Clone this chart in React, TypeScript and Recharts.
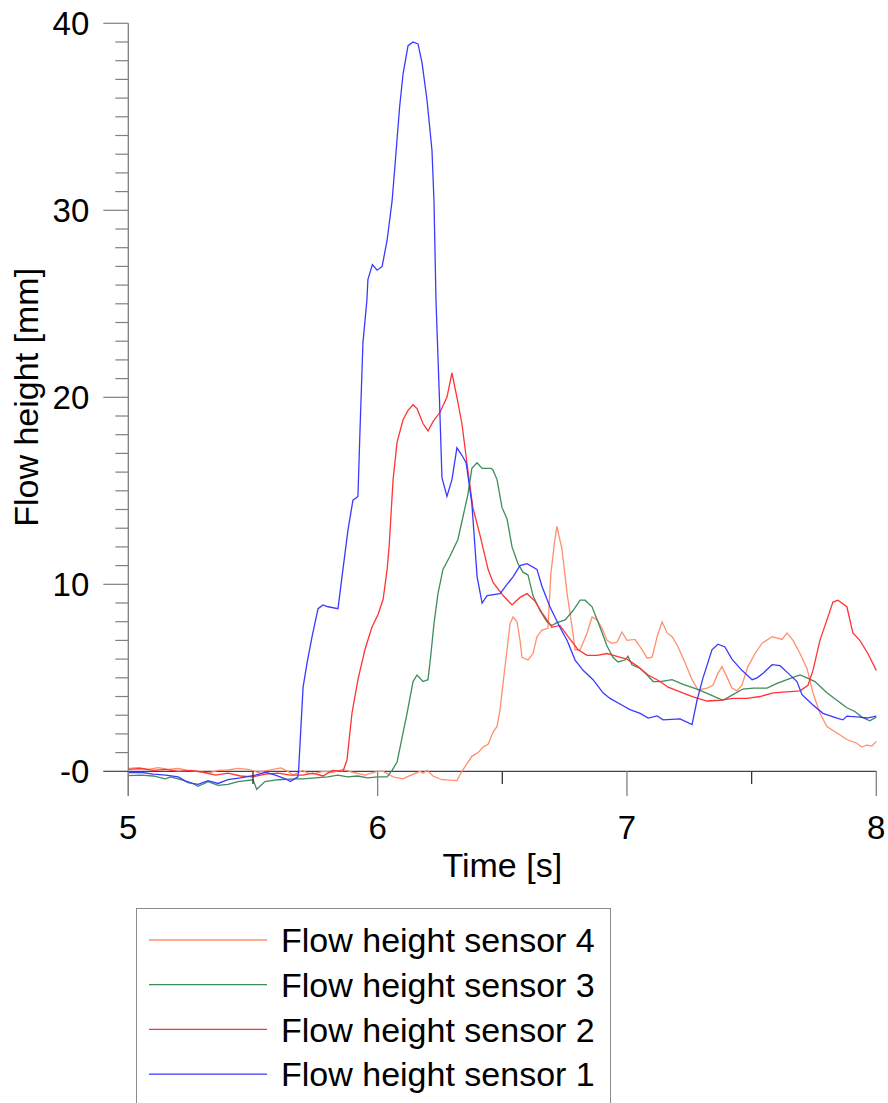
import { LineChart, Line, XAxis, YAxis, ReferenceLine } from 'recharts';

// time [s] and flow height [mm], one pair of arrays per sensor
const sensor1Time = [
  5.0, 5.05, 5.1, 5.15, 5.2, 5.24, 5.28, 5.32, 5.36, 5.4, 5.45, 5.51, 5.55, 5.59, 5.63, 5.65, 5.68,
  5.683, 5.701, 5.717, 5.737, 5.761, 5.781, 5.801, 5.841, 5.857, 5.881, 5.901, 5.921, 5.929, 5.941,
  5.957, 5.961, 5.979, 5.998, 6.018, 6.038, 6.058, 6.072, 6.088, 6.102, 6.122, 6.142, 6.162, 6.178,
  6.198, 6.218, 6.226, 6.234, 6.248, 6.258, 6.278, 6.298, 6.318, 6.338, 6.355, 6.378, 6.399, 6.419,
  6.439, 6.491, 6.519, 6.543, 6.571, 6.599, 6.639, 6.659, 6.691, 6.731, 6.76, 6.792, 6.824, 6.864,
  6.904, 6.932, 6.972, 7.012, 7.053, 7.085, 7.121, 7.145, 7.213, 7.261, 7.281, 7.305, 7.341, 7.365,
  7.393, 7.421, 7.461, 7.502, 7.522, 7.546, 7.582, 7.614, 7.646, 7.682, 7.702, 7.746, 7.786, 7.842,
  7.866, 7.882, 7.934, 7.962, 8.0,
];
const sensor1Height = [
  -0.07, -0.05, -0.15, -0.2, -0.3, -0.6, -0.7, -0.5, -0.65, -0.45, -0.35, -0.2, -0.05, -0.2, -0.4, -0.55, -0.3,
  0.05, 4.5, 5.8, 7.2, 8.7, 8.9, 8.8, 8.7, 10.4, 12.9, 14.5, 14.7, 18.1, 22.9,
  25.2, 26.3, 27.1, 26.8, 27.0, 28.4, 30.5, 32.8, 35.5, 37.3, 38.8, 39.0, 38.9, 37.9,
  35.9, 33.2, 30.5, 25.2, 19.9, 15.7, 14.7, 15.6, 17.3, 16.9, 16.5, 14.3, 10.4, 9.0,
  9.4, 9.5, 10.0, 10.4, 11.0, 11.1, 10.8, 9.9, 8.8, 7.7, 7.0, 5.95, 5.4, 4.9,
  4.2, 3.9, 3.6, 3.3, 3.1, 2.85, 2.96, 2.75, 2.8, 2.5, 3.8, 5.0, 6.5, 6.8,
  6.65, 6.0, 5.4, 4.9, 5.0, 5.25, 5.7, 5.65, 5.25, 4.8, 4.1, 3.55, 3.1, 2.85,
  2.75, 2.95, 2.9, 2.85, 2.95,
];

const sensor2Time = [
  5.0, 5.05, 5.1, 5.15, 5.2, 5.25, 5.3, 5.35, 5.4, 5.45, 5.5, 5.55, 5.6, 5.65, 5.7, 5.74, 5.78, 5.82,
  5.861, 5.877, 5.897, 5.921, 5.949, 5.977, 6.002, 6.022, 6.038, 6.046, 6.062, 6.078, 6.102, 6.122,
  6.142, 6.158, 6.182, 6.202, 6.222, 6.25, 6.278, 6.298, 6.318, 6.338, 6.358, 6.382, 6.411, 6.443,
  6.463, 6.503, 6.539, 6.571, 6.599, 6.631, 6.663, 6.699, 6.731, 6.764, 6.804, 6.84, 6.88, 6.92,
  6.96, 7.0, 7.044, 7.085, 7.133, 7.165, 7.213, 7.265, 7.321, 7.373, 7.425, 7.481, 7.534, 7.586,
  7.642, 7.694, 7.726, 7.746, 7.774, 7.802, 7.826, 7.846, 7.882, 7.906, 7.934, 7.966, 8.0,
];
const sensor2Height = [
  0.1, 0.15, 0.05, 0.1, 0.0, 0.05, -0.05, -0.2, -0.1, -0.25, -0.3, -0.15, -0.1, -0.2, -0.2, -0.1, -0.25, 0.05,
  0.0, 0.6, 3.1, 4.9, 6.5, 7.7, 8.4, 9.2, 10.8, 12.0, 15.6, 17.6, 18.8, 19.3,
  19.6, 19.4, 18.6, 18.2, 18.7, 19.2, 20.0, 21.3, 20.0, 18.6, 16.5, 14.1, 12.6, 10.8,
  10.1, 9.4, 8.9, 9.3, 9.5, 9.1, 8.4, 7.7, 7.8, 7.2, 6.5, 6.2, 6.2, 6.3,
  6.15, 6.0, 5.6, 5.15, 4.8, 4.5, 4.25, 3.98, 3.76, 3.8, 3.9, 3.9, 4.0, 4.2,
  4.25, 4.3, 4.6, 5.4, 7.0, 8.1, 9.05, 9.15, 8.8, 7.4, 7.0, 6.3, 5.4,
];

const sensor3Time = [
  5.0, 5.05, 5.1, 5.148, 5.17, 5.211, 5.25, 5.28, 5.32, 5.36, 5.4, 5.44, 5.5, 5.515, 5.548, 5.6,
  5.668, 5.7, 5.75, 5.8, 5.84, 5.88, 5.92, 5.96, 6.0, 6.038, 6.058, 6.078, 6.098, 6.118, 6.142,
  6.158, 6.182, 6.202, 6.214, 6.226, 6.242, 6.262, 6.29, 6.322, 6.342, 6.362, 6.378, 6.399, 6.419,
  6.455, 6.463, 6.479, 6.499, 6.519, 6.539, 6.563, 6.583, 6.603, 6.623, 6.651, 6.679, 6.699, 6.719,
  6.752, 6.784, 6.812, 6.832, 6.86, 6.892, 6.92, 6.944, 6.964, 6.992, 7.004, 7.02, 7.053, 7.081,
  7.105, 7.133, 7.181, 7.225, 7.281, 7.333, 7.385, 7.425, 7.465, 7.506, 7.562, 7.602, 7.642, 7.694,
  7.722, 7.754, 7.802, 7.842, 7.882, 7.914, 7.942, 7.974, 8.0,
];
const sensor3Height = [
  -0.23, -0.2, -0.25, -0.4, -0.3, -0.45, -0.6, -0.8, -0.55, -0.75, -0.7, -0.55, -0.45, -0.96, -0.55, -0.45,
  -0.4, -0.4, -0.35, -0.3, -0.2, -0.3, -0.25, -0.35, -0.3, -0.3, 0.05, 0.5, 1.8, 3.1, 4.8,
  5.15, 4.8, 4.9, 6.3, 7.9, 9.5, 10.8, 11.5, 12.4, 13.6, 14.8, 16.2, 16.5, 16.2,
  16.2, 16.1, 15.6, 14.1, 13.5, 12.0, 11.1, 10.65, 10.5, 9.4, 8.6, 8.0, 7.8, 7.95,
  8.1, 8.6, 9.15, 9.15, 8.8, 7.7, 6.7, 6.1, 5.85, 5.95, 6.15, 5.7, 5.5, 5.15,
  4.8, 4.8, 4.9, 4.65, 4.4, 4.1, 3.8, 4.1, 4.4, 4.45, 4.45, 4.7, 4.9, 5.15,
  5.0, 4.8, 4.2, 3.8, 3.4, 3.2, 2.9, 2.7, 2.9,
];

const sensor4Time = [
  5.0, 5.04, 5.08, 5.12, 5.16, 5.2, 5.24, 5.28, 5.32, 5.36, 5.4, 5.44, 5.48, 5.52, 5.56, 5.612, 5.64,
  5.66, 5.7, 5.72, 5.741, 5.78, 5.82, 5.861, 5.9, 5.949, 5.998, 6.022, 6.062, 6.102, 6.118, 6.17,
  6.182, 6.198, 6.222, 6.258, 6.318, 6.338, 6.378, 6.403, 6.423, 6.443, 6.463, 6.479, 6.491, 6.503,
  6.519, 6.531, 6.543, 6.559, 6.571, 6.579, 6.603, 6.623, 6.639, 6.659, 6.683, 6.695, 6.711, 6.719,
  6.739, 6.76, 6.78, 6.792, 6.812, 6.84, 6.86, 6.88, 6.9, 6.92, 6.94, 6.96, 6.98, 7.0,
  7.032, 7.061, 7.081, 7.101, 7.121, 7.141, 7.161, 7.181, 7.205, 7.233, 7.261, 7.285, 7.321, 7.345,
  7.365, 7.381, 7.401, 7.421, 7.441, 7.461, 7.485, 7.514, 7.542, 7.582, 7.622, 7.642, 7.666, 7.694,
  7.722, 7.746, 7.774, 7.802, 7.842, 7.882, 7.922, 7.942, 7.962, 7.982, 8.0,
];
const sensor4Height = [
  0.16, 0.2, 0.1, 0.2, 0.1, 0.15, 0.05, 0.0, -0.1, 0.05, 0.07, 0.16, 0.1, -0.05, 0.05, 0.18, 0.0,
  -0.2, 0.05, -0.1, -0.15, 0.0, -0.05, 0.1, -0.05, -0.2, 0.0, 0.0, -0.3, -0.4, -0.3, 0.0,
  -0.1, 0.05, -0.25, -0.45, -0.5, 0.0, 0.8, 1.0, 1.3, 1.45, 2.1, 2.4, 3.3, 4.7,
  6.5, 7.9, 8.25, 8.0, 7.0, 6.1, 5.95, 6.3, 7.2, 7.55, 7.65, 10.6, 12.4, 13.1,
  11.9, 9.5, 7.7, 6.5, 6.5, 7.4, 8.25, 8.1, 7.65, 7.0, 6.85, 6.9, 7.45, 7.0,
  7.05, 6.5, 6.05, 6.1, 7.2, 8.0, 7.4, 7.2, 6.65, 5.8, 4.9, 4.35, 4.45, 4.6,
  5.25, 5.6, 5.05, 4.45, 4.3, 4.6, 5.6, 6.3, 6.85, 7.2, 7.05, 7.4, 7.0, 6.3,
  5.5, 4.2, 3.1, 2.4, 2.05, 1.7, 1.5, 1.3, 1.4, 1.35, 1.6,
];

const xTicks = [5, 5.5, 6, 6.5, 7, 7.5, 8];
const yTicks = Array.from({ length: 41 }, (_, i) => i);

const legendItems = [
  { name: 'Flow height sensor 4', color: '#ff8f6e' },
  { name: 'Flow height sensor 3', color: '#3f8c5c' },
  { name: 'Flow height sensor 2', color: '#ff3434' },
  { name: 'Flow height sensor 1', color: '#3a3aff' },
];

const zip = (t: number[], h: number[]) => t.map((v, i) => ({ t: v, h: h[i] }));

const series = [
  { key: 's4', data: zip(sensor4Time, sensor4Height), color: legendItems[0].color },
  { key: 's3', data: zip(sensor3Time, sensor3Height), color: legendItems[1].color },
  { key: 's2', data: zip(sensor2Time, sensor2Height), color: legendItems[2].color },
  { key: 's1', data: zip(sensor1Time, sensor1Height), color: legendItems[3].color },
];

const FONT = '"Liberation Sans", Arial, sans-serif';
const AXIS_GREY = '#808080';

const XTick = (props: any) => {
  const { x, y, payload } = props;
  const major = Number.isInteger(payload.value);
  return (
    <g>
      <line x1={x} x2={x} y1={y - 25} y2={major ? y : y - 12} stroke={major ? AXIS_GREY : '#333'} strokeWidth={1.3} />
      {major && (
        <text x={x} y={y + 43} textAnchor="middle" fontSize={33} fontFamily={FONT} fill="#000">
          {payload.value}
        </text>
      )}
    </g>
  );
};

const YTick = (props: any) => {
  const { x, y, payload } = props;
  const major = payload.value % 10 === 0;
  return (
    <g>
      <line x1={major ? x - 25 : x - 13} x2={x} y1={y} y2={y} stroke={payload.value === 0 ? '#444' : AXIS_GREY} strokeWidth={1.2} />
      {major && (
        <text x={x - 39} y={y + 12} textAnchor="end" fontSize={33} fontFamily={FONT} fill="#000">
          {payload.value === 0 ? '-0' : payload.value}
        </text>
      )}
    </g>
  );
};

export default function App() {
  return (
    <div style={{ position: 'absolute', left: 0, top: 0, width: 888, height: 1103, overflow: 'hidden', background: '#fff' }}>
      <LineChart width={888} height={900} margin={{ top: 23.3, right: 11.7, left: 0, bottom: 0 }}>
        <XAxis
          type="number"
          dataKey="t"
          domain={[5, 8]}
          ticks={xTicks}
          height={104}
          axisLine={false}
          tickLine={false}
          tickSize={0}
          tickMargin={0}
          tick={<XTick />}
          label={{ value: 'Time [s]', position: 'insideBottom', offset: 23, fontSize: 34, fontFamily: FONT, fill: '#000' }}
        />
        <YAxis
          type="number"
          domain={[-1.32, 40]}
          ticks={yTicks}
          interval={0}
          width={128.3}
          axisLine={{ stroke: AXIS_GREY, strokeWidth: 1.3 }}
          tickLine={false}
          tickSize={0}
          tickMargin={0}
          tick={<YTick />}
          label={{ value: 'Flow height [mm]', angle: -90, position: 'center', dx: -38, dy: -12.3, fontSize: 34, fontFamily: FONT, fill: '#000' }}
        />
        <ReferenceLine y={0} stroke="#444" strokeWidth={1.3} />
        {series.map((s) => (
          <Line
            key={s.key}
            data={s.data}
            dataKey="h"
            type="linear"
            stroke={s.color}
            strokeWidth={1.3}
            dot={false}
            activeDot={false}
            isAnimationActive={false}
          />
        ))}
      </LineChart>
      <div style={{ position: 'absolute', left: 136, top: 908, width: 475, height: 240, border: '1px solid #8a8a8a', boxSizing: 'border-box' }}>
        <svg width={475} height={240} style={{ position: 'absolute', left: -1, top: -1 }}>
          {legendItems.map((item, i) => {
            const cy = 32 + i * 44.7;
            return (
              <g key={item.name}>
                <line x1={13} x2={131} y1={cy} y2={cy} stroke={item.color} strokeWidth={1.3} />
                <text x={145} y={cy + 12.2} fontSize={34} fontFamily={FONT} fill="#000">
                  {item.name}
                </text>
              </g>
            );
          })}
        </svg>
      </div>
    </div>
  );
}
